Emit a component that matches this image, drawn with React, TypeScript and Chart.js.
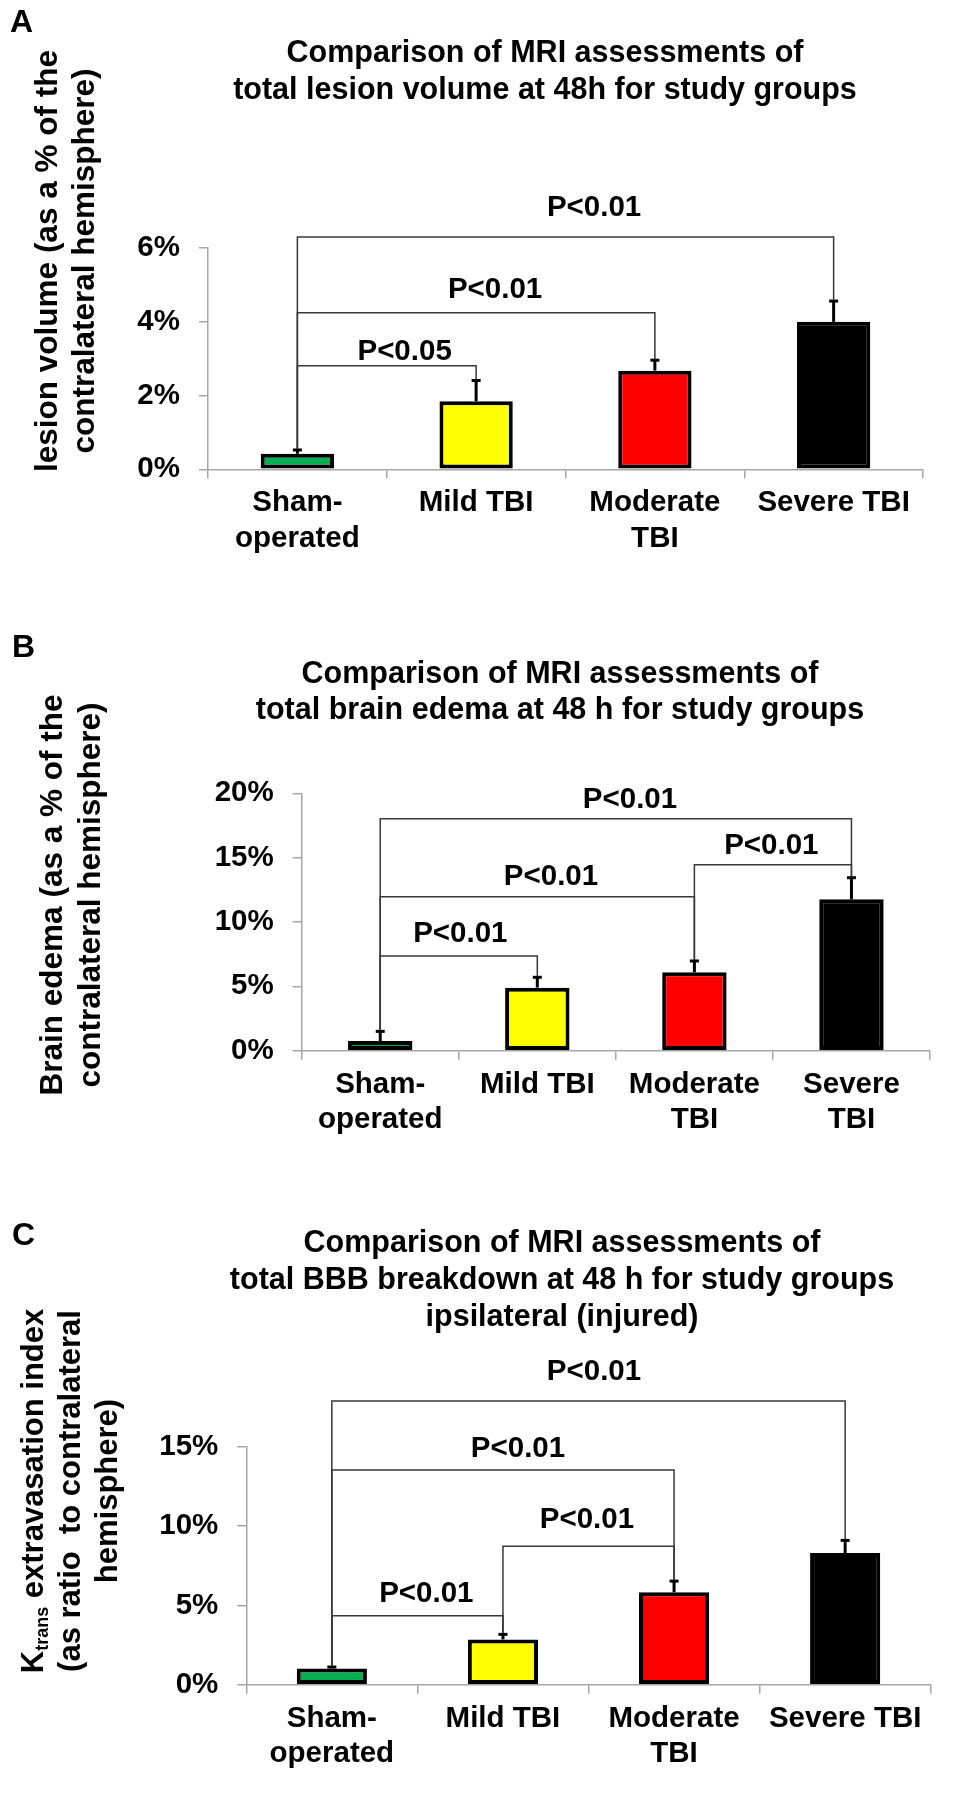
import React, { useEffect, useRef } from 'react';
import { Chart, registerables } from 'chart.js';

Chart.register(...registerables);

// ---------------- DATA ----------------
// Panel A: total lesion volume at 48h
const categoriesA = [['Sham-', 'operated'], 'Mild TBI', ['Moderate', 'TBI'], 'Severe TBI'];
const lesionVolume = [0.42, 1.84, 2.67, 3.99];
const lesionVolumeErr = [0.13, 0.59, 0.31, 0.59];
const ticksA = [0, 2, 4, 6];
const bracketsA = [[0, 1, 2.8], [0, 2, 4.24], [0, 3, 6.29]]; // [from, to, level %]
const pLabelsA = ['P<0.05', 'P<0.01', 'P<0.01'];
const pLabelAnchorsA = [[0.6, 3.19], [1.106, 4.85], [1.66, 7.07]]; // [category, %]
const titleA = ['Comparison of MRI assessments of', 'total lesion volume at 48h for study groups'];
const yTitleA = ['lesion volume (as a % of the', 'contralateral hemisphere)'];

// Panel B: total brain edema at 48 h
const categoriesB = [['Sham-', 'operated'], 'Mild TBI', ['Moderate', 'TBI'], ['Severe', 'TBI']];
const brainEdema = [0.75, 4.9, 6.09, 11.76];
const brainEdemaErr = [0.83, 0.88, 0.96, 1.76];
const ticksB = [0, 5, 10, 15, 20];
const bracketsB = [[0, 1, 7.36], [0, 2, 11.97], [2, 3, 14.45], [0, 3, 18.03]];
const pLabelsB = ['P<0.01', 'P<0.01', 'P<0.01', 'P<0.01'];
const pLabelAnchorsB = [[0.51, 9.07], [1.087, 13.52], [2.49, 15.9], [1.59, 19.48]];
const titleB = ['Comparison of MRI assessments of', 'total brain edema at 48 h for study groups'];
const yTitleB = ['Brain edema (as a % of the', 'contralateral hemisphere)'];

// Panel C: total BBB breakdown at 48 h
const categoriesC = [['Sham-', 'operated'], 'Mild TBI', ['Moderate', 'TBI'], 'Severe TBI'];
const ktransIndex = [1.03, 2.86, 5.83, 8.31];
const ktransIndexErr = [0.15, 0.38, 0.77, 0.86];
const ticksC = [0, 5, 10, 15];
const bracketsC = [[0, 1, 4.35], [1, 2, 8.73], [0, 2, 13.55], [0, 3, 17.9]];
const pLabelsC = ['P<0.01', 'P<0.01', 'P<0.01', 'P<0.01'];
const pLabelAnchorsC = [[0.552, 5.72], [1.491, 10.39], [1.088, 14.9], [1.532, 19.75]];
const titleC = ['Comparison of MRI assessments of', 'total BBB breakdown at 48 h for study groups', 'ipsilateral (injured)'];
const yTitleC = ['K|trans| extravasation index', '(as ratio  to contralateral', 'hemisphere)'];

const barColors = ['#00B050', '#FFFF00', '#FF0000', '#000000'];

// ---------------- STYLE / LAYOUT ----------------
const FONT = '"Liberation Sans", Arial, Helvetica, sans-serif';
const AXIS = '#a6a6a6';
const BRACKET = '#383838';

type PanelDef = {
  letter: string;
  top: number;
  height: number;
  axisLeft: number;
  padRight: number;
  padTop: number;
  padBottom: number;
  max: number;
  categories: any[];
  values: number[];
  errors: number[];
  ticks: number[];
  brackets: number[][];
  pLabels: string[];
  pAnchors: number[][];
  title: string[];
  titleX: number;
  titleBaselines: number[];
  yTitle: string[];
  yTitleFont: number;
  yTitleCenter: number;
  yTitleBaselines: number[];
  letterX: number;
  letterBaseline: number;
};

const panels: PanelDef[] = [
  {
    letter: 'A', top: 0, height: 600, axisLeft: 208, padRight: 38, padTop: 247.6, padBottom: 30.7, max: 6,
    categories: categoriesA, values: lesionVolume, errors: lesionVolumeErr, ticks: ticksA,
    brackets: bracketsA, pLabels: pLabelsA, pAnchors: pLabelAnchorsA,
    title: titleA, titleX: 545, titleBaselines: [62, 99],
    yTitle: yTitleA, yTitleFont: 31.5, yTitleCenter: 261, yTitleBaselines: [57, 94],
    letterX: 10, letterBaseline: 32,
  },
  {
    letter: 'B', top: 600, height: 580, axisLeft: 301.7, padRight: 31, padTop: 193.3, padBottom: 29.3, max: 20,
    categories: categoriesB, values: brainEdema, errors: brainEdemaErr, ticks: ticksB,
    brackets: bracketsB, pLabels: pLabelsB, pAnchors: pLabelAnchorsB,
    title: titleB, titleX: 560, titleBaselines: [82.5, 119],
    yTitle: yTitleB, yTitleFont: 31.5, yTitleCenter: 295, yTitleBaselines: [62, 100],
    letterX: 12, letterBaseline: 57,
  },
  {
    letter: 'C', top: 1180, height: 614, axisLeft: 246.3, padRight: 30.3, padTop: 267, padBottom: 9.3, max: 15,
    categories: categoriesC, values: ktransIndex, errors: ktransIndexErr, ticks: ticksC,
    brackets: bracketsC, pLabels: pLabelsC, pAnchors: pLabelAnchorsC,
    title: titleC, titleX: 562, titleBaselines: [72, 109, 146],
    yTitle: yTitleC, yTitleFont: 31, yTitleCenter: 311, yTitleBaselines: [43, 80, 117],
    letterX: 12, letterBaseline: 65,
  },
];

function makeAnnotations(p: PanelDef) {
  return {
    id: 'annotations' + p.letter,
    afterDraw(chart: any) {
      const ctx: CanvasRenderingContext2D = chart.ctx;
      const xs = chart.scales.x;
      const ys = chart.scales.y;
      const meta = chart.getDatasetMeta(0);
      ctx.save();

      // error bars (upper only)
      ctx.strokeStyle = '#000';
      ctx.lineWidth = 3;
      p.values.forEach((v, i) => {
        const bar = meta.data[i];
        const x = bar.x;
        const y0 = ys.getPixelForValue(v);
        const y1 = ys.getPixelForValue(v + p.errors[i]);
        ctx.beginPath();
        ctx.moveTo(x, y0);
        ctx.lineTo(x, y1);
        ctx.stroke();
        ctx.beginPath();
        ctx.moveTo(x - 4.5, y1 + 1);
        ctx.lineTo(x + 4.5, y1 + 1);
        ctx.stroke();
      });

      // significance brackets
      ctx.strokeStyle = BRACKET;
      ctx.lineWidth = 1.5;
      p.brackets.forEach(([a, b, lvl]) => {
        const xa = xs.getPixelForValue(a);
        const xb = xs.getPixelForValue(b);
        const yl = ys.getPixelForValue(lvl);
        const ya = ys.getPixelForValue(p.values[a] + p.errors[a]);
        const yb = ys.getPixelForValue(p.values[b] + p.errors[b]);
        ctx.beginPath();
        ctx.moveTo(xa, ya);
        ctx.lineTo(xa, yl);
        ctx.lineTo(xb, yl);
        ctx.lineTo(xb, yb);
        ctx.stroke();
      });

      // P labels
      ctx.fillStyle = '#000';
      ctx.font = `bold 29.5px ${FONT}`;
      ctx.textAlign = 'center';
      ctx.textBaseline = 'middle';
      p.pLabels.forEach((t, i) => {
        const [c, v] = p.pAnchors[i];
        ctx.fillText(t, xs.getPixelForValue(c), ys.getPixelForValue(v));
      });

      // panel letter
      ctx.textBaseline = 'alphabetic';
      ctx.textAlign = 'left';
      ctx.font = `bold 32px ${FONT}`;
      ctx.fillText(p.letter, p.letterX, p.letterBaseline);

      // chart title
      ctx.textAlign = 'center';
      ctx.font = `bold 30.5px ${FONT}`;
      p.title.forEach((t, i) => ctx.fillText(t, p.titleX, p.titleBaselines[i]));

      // rotated y-axis title
      const fs = p.yTitleFont;
      p.yTitle.forEach((t, i) => {
        ctx.save();
        ctx.translate(p.yTitleBaselines[i], p.yTitleCenter);
        ctx.rotate(-Math.PI / 2);
        ctx.textBaseline = 'alphabetic';
        if (t.includes('|')) {
          const [main, sub, rest] = t.split('|');
          const mainFont = `bold ${fs}px ${FONT}`;
          const subFont = `bold ${Math.round(fs * 0.58)}px ${FONT}`;
          ctx.font = mainFont;
          const w1 = ctx.measureText(main).width;
          const w3 = ctx.measureText(rest).width;
          ctx.font = subFont;
          const w2 = ctx.measureText(sub).width;
          let x = -(w1 + w2 + w3) / 2;
          ctx.textAlign = 'left';
          ctx.font = mainFont;
          ctx.fillText(main, x, 0);
          x += w1;
          ctx.font = subFont;
          ctx.fillText(sub, x, fs * 0.16);
          x += w2;
          ctx.font = mainFont;
          ctx.fillText(rest, x, 0);
        } else {
          ctx.textAlign = 'center';
          ctx.font = `bold ${fs}px ${FONT}`;
          ctx.fillText(t, 0, 0);
        }
        ctx.restore();
      });

      ctx.restore();
    },
  };
}

function PanelChart({ p }: { p: PanelDef }) {
  const ref = useRef<HTMLCanvasElement | null>(null);
  useEffect(() => {
    if (!ref.current) return;
    const tickFont = { family: FONT, size: 29.5, weight: 'bold' as const, lineHeight: 1.2 };
    const chart = new Chart(ref.current, {
      type: 'bar',
      data: {
        labels: p.categories,
        datasets: [
          {
            data: p.values,
            backgroundColor: barColors,
            borderColor: '#000',
            borderWidth: 4,
            borderSkipped: false,
            barPercentage: 0.41,
            categoryPercentage: 1,
          },
        ],
      },
      options: {
        responsive: false,
        animation: false,
        layout: { padding: { top: p.padTop, bottom: p.padBottom, left: 0, right: p.padRight } },
        plugins: { legend: { display: false }, tooltip: { enabled: false }, title: { display: false } },
        scales: {
          x: {
            type: 'category',
            grid: { display: true, drawOnChartArea: false, drawTicks: true, tickLength: 9, color: AXIS, lineWidth: 1.5, offset: true },
            border: { display: true, color: AXIS, width: 1.5 },
            ticks: { color: '#000', font: tickFont, padding: 7, maxRotation: 0, minRotation: 0, autoSkip: false },
            afterFit: (s: any) => { s.height = 100; },
          },
          y: {
            type: 'linear',
            min: 0,
            max: p.max,
            grid: { display: true, drawOnChartArea: false, drawTicks: true, tickLength: 9, color: AXIS, lineWidth: 1.5 },
            border: { display: true, color: AXIS, width: 1.5 },
            ticks: { color: '#000', font: tickFont, padding: 19, callback: (v: any) => `${v}%` },
            afterBuildTicks: (s: any) => { s.ticks = p.ticks.map((v) => ({ value: v })); },
            afterFit: (s: any) => { s.width = p.axisLeft; },
          },
        },
      } as any,
      plugins: [makeAnnotations(p)],
    });
    return () => chart.destroy();
  }, [p]);
  return (
    <canvas
      ref={ref}
      width={961}
      height={p.height}
      style={{ position: 'absolute', left: 0, top: p.top, display: 'block' }}
    />
  );
}

export default function App() {
  return (
    <div style={{ position: 'absolute', left: 0, top: 0, width: 961, height: 1794, background: '#fff', overflow: 'hidden' }}>
      {panels.map((p) => (
        <PanelChart key={p.letter} p={p} />
      ))}
    </div>
  );
}
